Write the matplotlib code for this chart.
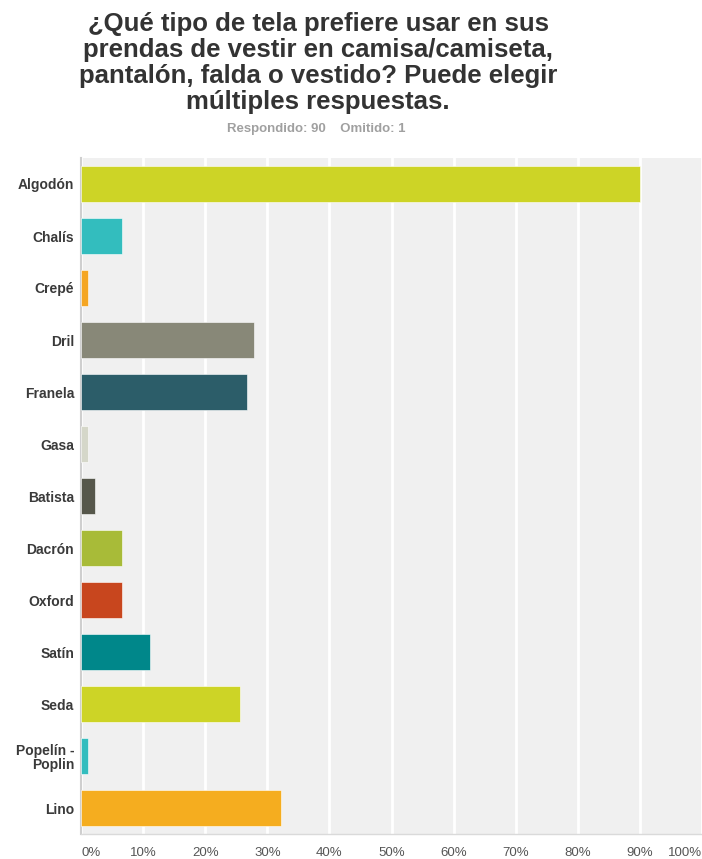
import numpy as np
import matplotlib.pyplot as plt

# %% Data
categories = ["Algodón", "Chalís", "Crepé", "Dril", "Franela", "Gasa", "Batista",
              "Dacrón", "Oxford", "Satín", "Seda", "Popelín -\nPoplin", "Lino"]
values = [90.0, 6.67, 1.11, 27.78, 26.67, 1.11, 2.22, 6.67, 6.67, 11.11, 25.56, 1.11, 32.22]
colors = ["#CDD426", "#33BDBE", "#F5A623", "#888878", "#2C5D69", "#D5D7C9", "#56574B",
          "#A8BB38", "#C8461E", "#00878A", "#CDD426", "#33BDBE", "#F5AD1F"]
tick_vals = list(range(0, 101, 10))
tick_labels = ["{}%".format(t) for t in tick_vals]

# %% Plot
plt.rcParams['font.family'] = ['Liberation Sans', 'DejaVu Sans']
fig = plt.figure(figsize=(7.02, 8.59), dpi=100)
W, H = 702, 859
ax = fig.add_axes([81 / W, (H - 834) / H, (702 - 81) / W, (834 - 158) / H])
ax.set_facecolor("#F0F0F0")

y = np.arange(len(categories))
ax.barh(y, values, height=0.71, color=colors, edgecolor="#FFFFFF", linewidth=0.4, zorder=3)
ax.set_ylim(len(categories) - 0.5, -0.5)
ax.set_xlim(0, 100)

ax.set_xticks(tick_vals)
ax.set_xticklabels([])
ax.grid(axis="x", color="white", linewidth=2, zorder=1)
ax.tick_params(length=0)
ax.set_yticks(y)
ax.set_yticklabels(categories, fontsize=10, fontweight="bold", color="#3A3A3A",
                   linespacing=1.0)
ax.tick_params(axis="y", pad=5)

for s in ["top", "right"]:
    ax.spines[s].set_visible(False)
ax.spines["left"].set_color("#CFCFCF")
ax.spines["left"].set_linewidth(1.5)
ax.spines["bottom"].set_color("#DADADA")
ax.spines["bottom"].set_linewidth(1)

# x tick labels: first left aligned, last right aligned
for t, lab in zip(tick_vals, tick_labels):
    ha = "center"
    if t == 0:
        ha = "left"
    elif t == 100:
        ha = "right"
    ax.annotate(lab, (t, 0), xycoords=("data", "axes fraction"),
                xytext=(0, -13.5), textcoords="offset points",
                ha=ha, va="center", fontsize=9.5, color="#555555")

fig.text(318 / W, 1 - 12 / H, "¿Qué tipo de tela prefiere usar en sus\n"
         "prendas de vestir en camisa/camiseta,\n"
         "pantalón, falda o vestido? Puede elegir\n"
         "múltiples respuestas.",
         ha="center", va="top", fontsize=18.5, fontweight="bold", color="#333333",
         linespacing=1.1)
fig.text(316 / W, 1 - 129 / H, "Respondido: 90    Omitido: 1",
         ha="center", va="center", fontsize=9.5, fontweight="bold", color="#A0A0A0")

fig.savefig("out.png", dpi=100)
